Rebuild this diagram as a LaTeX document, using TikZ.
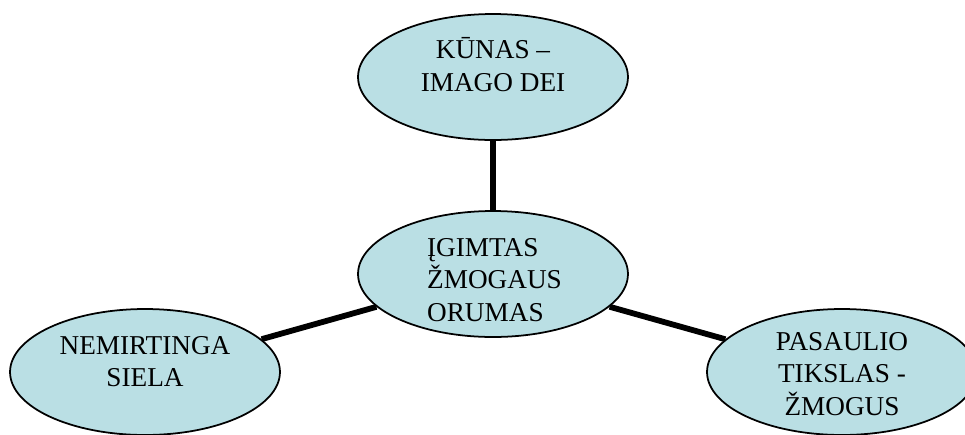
\documentclass[tikz,border=0pt]{standalone}
\usepackage{fontspec}
\setmainfont{Liberation Serif}
\usetikzlibrary{shapes.geometric}

\definecolor{oval}{RGB}{186,223,228}

\begin{document}
\begin{tikzpicture}[
    x=0.02cm, y=-0.02cm,
    % filled ovals, no text inside; the words sit in their own nodes
    oval/.style={ellipse, draw=black, line width=1pt, fill=oval, inner sep=0pt,
      minimum width=5.4cm, minimum height=2.52cm},
    txt/.style={align=center, inner sep=0pt, font=\fontsize{15.5}{18.6}\selectfont},
    link/.style={line width=3.3pt}
  ]
    \useasboundingbox (0,0) rectangle (965,434);
    \clip (0,0) rectangle (965,434);

    %--- ovals ---
    \node[oval] (kunas) at (493,77) {};
    \node[oval] (orumas) at (493,274) {};
    \node[oval] (siela) at (145,372) {};
    \node[oval] (tikslas) at (842,372) {};

    %--- spokes (they stop at the oval borders)
    \draw[link] (kunas) -- (orumas);
    \draw[link] (siela) -- (orumas);
    \draw[link] (tikslas) -- (orumas);

    %--- words ---
    \node[txt] (kunasT) at ([yshift=0.25cm]kunas.center) {KŪNAS –\\IMAGO DEI};
    \node[txt, align=left] (orumasT) at ([xshift=0.03cm, yshift=-0.12cm]orumas.center) {ĮGIMTAS\\ŽMOGAUS\\ORUMAS};
    \node[txt] (sielaT) at ([yshift=0.21cm]siela.center) {NEMIRTINGA\\SIELA};
    \node[txt] (tikslasT) at ([yshift=-0.04cm]tikslas.center) {PASAULIO\\TIKSLAS -\\ŽMOGUS};
\end{tikzpicture}
\end{document}
